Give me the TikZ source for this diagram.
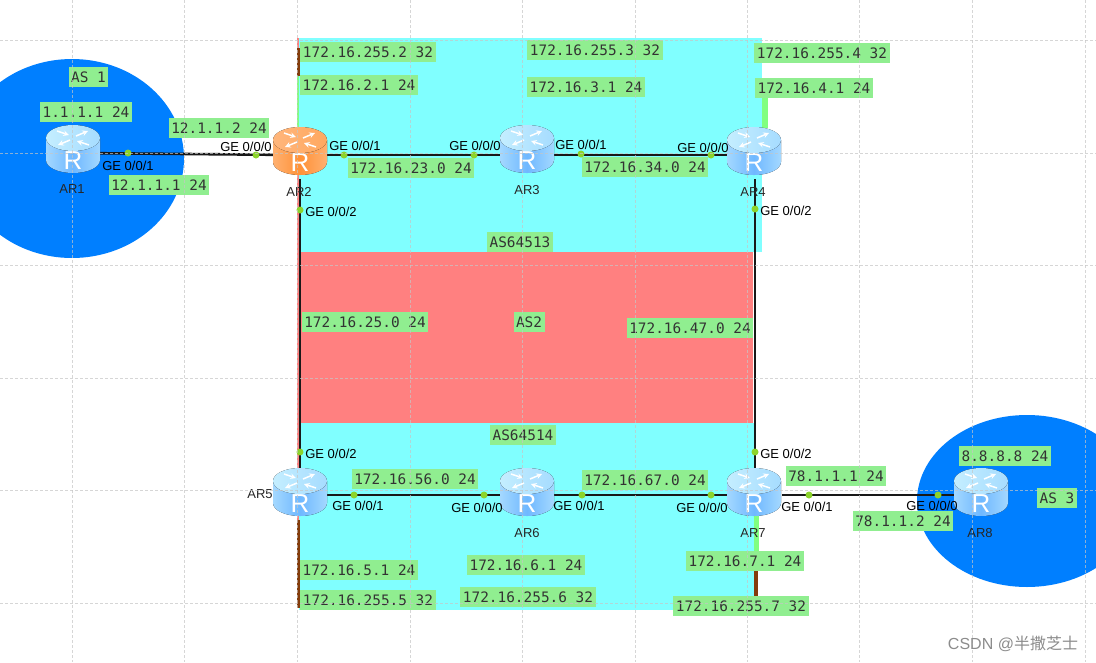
\documentclass[tikz,border=0pt]{standalone}
\usepackage{fontspec}
\usepackage{xcolor}
\setmainfont{Liberation Sans}
\setmonofont{DejaVu Sans Mono}
\newfontfamily\cjk{Noto Sans CJK SC}
\definecolor{asblue}{HTML}{007FFF}
\definecolor{ascyan}{HTML}{80FFFF}
\definecolor{asred}{HTML}{FF8080}
\definecolor{tagfill}{HTML}{90EE90}
\definecolor{portdot}{HTML}{8CD42C}
\definecolor{lobrown}{HTML}{843C0C}
\definecolor{logreen}{HTML}{80FF80}
\definecolor{bluea}{HTML}{A4D8FF}
\definecolor{blueb}{HTML}{6FB8FF}
\definecolor{bluec}{HTML}{C4EEFF}
\definecolor{blued}{HTML}{A6DCFF}
\definecolor{orangea}{HTML}{FFB070}
\definecolor{orangeb}{HTML}{FF9238}
\definecolor{orangec}{HTML}{FFB67C}
\definecolor{oranged}{HTML}{FFA860}
\tikzset{
    pics/router/.style n args={4}{code={
        \fill[left color=#1, right color=#1, middle color=#2] (-27,-11) -- (-27,11)
            arc[start angle=180, end angle=360, x radius=27pt, y radius=13pt] -- (27,-11) -- cycle;
        \fill[left color=#3, right color=#4] (0,-11) ellipse[x radius=27pt, y radius=13pt];
        \draw[white, line width=1.5pt, -stealth] (3,-13) -- (15,-18);
        \draw[white, line width=1.5pt, -stealth] (-3,-9) -- (-15,-4);
        \draw[white, line width=1.5pt, -stealth] (-16,-18) -- (-4,-14);
        \draw[white, line width=1.5pt, -stealth] (16,-4) -- (4,-8);
        \node[text=white, font=\fontsize{26}{26}\selectfont, inner sep=0pt] (R) at (0,12) {R};
    }},
    pics/bluerouter/.style={router={bluea}{blueb}{bluec}{blued}},
    pics/orangerouter/.style={router={orangea}{orangeb}{orangec}{oranged}}
}
\begin{document}
\begin{tikzpicture}[x=1pt, y=-1pt,
    rpos/.style={shape=rectangle, inner sep=0pt, minimum width=54pt, minimum height=48pt},
    tag/.style={fill=tagfill, text=black!80, font=\ttfamily\fontsize{14.4}{16}\selectfont,
        inner xsep=2.5pt, inner ysep=0pt, minimum height=20pt},
    port/.style={font=\fontsize{13}{14}\selectfont, text=black, inner sep=0pt},
    rname/.style={font=\fontsize{13}{14}\selectfont, text=black!85, inner sep=0pt},
    pdot/.style={shape=circle, fill=portdot, inner sep=0pt, minimum size=7pt},
    link/.style={line width=2.6pt, black!90},
    stub/.style={line width=3pt},
    gridline/.style={gray!45, line width=.9pt, dash pattern=on 3pt off 2pt, opacity=.7}]
    \clip (0,0) rectangle (1096,662);
    \fill[white] (0,0) rectangle (1096,662);

    % AS areas
    \fill[asblue] (72,158.5) ellipse[x radius=112pt, y radius=99.5pt];
    \fill[asblue] (1027,501) ellipse[x radius=110pt, y radius=86pt];
    \fill[asred] (297,38) rectangle (753,608);
    \fill[ascyan] (299,38) rectangle (762,252);
    \fill[ascyan] (299,423) rectangle (755,610);

    \node[rpos] (AR1) at (73,153) {};
    \node[rpos] (AR2) at (300,155) {};
    \node[rpos] (AR3) at (527,155) {};
    \node[rpos] (AR4) at (755,155) {};
    \node[rpos] (AR5) at (300,495) {};
    \node[rpos] (AR6) at (527,495) {};
    \node[rpos] (AR7) at (755,495) {};
    \node[rpos] (AR8) at (981,495) {};

    % loopback stubs
    \coordinate (lo2a) at (298,48);
    \coordinate (lo2b) at (298,76);
    \coordinate (lo2c) at (298,128);
    \coordinate (lo4a) at (765,98);
    \coordinate (lo4b) at (765,128);
    \coordinate (lo5a) at (298,520);
    \coordinate (lo5b) at (298,608);
    \coordinate (lo7a) at (756,516);
    \coordinate (lo7b) at (756,571);
    \coordinate (lo7c) at (756,597);
    \draw[stub, lobrown] (lo2a) -- (lo2b);
    \draw[stub, logreen, line width=2pt] (lo2b) -- (lo2c);
    \draw[stub, logreen, line width=6pt] (lo4a) -- (lo4b);
    \draw[stub, lobrown] (lo5a) -- (lo5b);
    \draw[stub, logreen, line width=5pt] (lo7a) -- (lo7b);
    \draw[stub, lobrown, line width=4pt] (lo7b) -- (lo7c);

    \draw[link] (AR1) -- (AR2);
    \draw[link] (AR2) -- (AR3);
    \draw[link] (AR3) -- (AR4);
    \draw[link] (AR5) -- (AR6);
    \draw[link] (AR6) -- (AR7);
    \draw[link] (AR7) -- (AR8);
    \draw[link] (AR2) -- (AR5);
    \draw[link] (AR4) -- (AR7);

    \node[pdot] (d11) at (128,153) {};
    \node[pdot] (d20) at (256,155) {};
    \node[pdot] (d21) at (344,155) {};
    \node[pdot] (d22) at (300,210) {};
    \node[pdot] (d30) at (474,155) {};
    \node[pdot] (d31) at (581,154) {};
    \node[pdot] (d40) at (711,155) {};
    \node[pdot] (d42) at (755,209) {};
    \node[pdot] (d52) at (300,452) {};
    \node[pdot] (d51) at (354,495) {};
    \node[pdot] (d60) at (484,495) {};
    \node[pdot] (d61) at (582,495) {};
    \node[pdot] (d70) at (711,495) {};
    \node[pdot] (d72) at (755,452) {};
    \node[pdot] (d71) at (809,495) {};
    \node[pdot] (d80) at (938,495) {};

    \pic (r1) at (73,149) {bluerouter};
    \pic (r2) at (300,151) {orangerouter};
    \pic (r3) at (527,149) {bluerouter};
    \pic (r4) at (754,151) {bluerouter};
    \pic (r5) at (300,492) {bluerouter};
    \pic (r6) at (527,492) {bluerouter};
    \pic (r7) at (754,492) {bluerouter};
    \pic (r8) at (981,492) {bluerouter};

    \node[rname] (n1) at (72,189) {AR1};
    \node[rname] (n2) at (299,192) {AR2};
    \node[rname] (n3) at (527,190) {AR3};
    \node[rname] (n4) at (753,192) {AR4};
    \node[rname] (n5) at (260,494) {AR5};
    \node[rname] (n6) at (527,533) {AR6};
    \node[rname] (n7) at (753,533) {AR7};
    \node[rname] (n8) at (980,533) {AR8};

    \node[port] (p11) at (128,166) {GE 0/0/1};
    \node[port] (p20) at (246,147) {GE 0/0/0};
    \node[port] (p21) at (355,146) {GE 0/0/1};
    \node[port] (p22) at (331,212) {GE 0/0/2};
    \node[port] (p30) at (475,146) {GE 0/0/0};
    \node[port] (p31) at (581,145) {GE 0/0/1};
    \node[port] (p40) at (703,148) {GE 0/0/0};
    \node[port] (p42) at (786,211) {GE 0/0/2};
    \node[port] (p52) at (331,454) {GE 0/0/2};
    \node[port] (p51) at (358,506) {GE 0/0/1};
    \node[port] (p60) at (477,508) {GE 0/0/0};
    \node[port] (p61) at (579,506) {GE 0/0/1};
    \node[port] (p70) at (702,508) {GE 0/0/0};
    \node[port] (p72) at (786,454) {GE 0/0/2};
    \node[port] (p71) at (807,507) {GE 0/0/1};
    \node[port] (p80) at (932,506) {GE 0/0/0};

    \node[tag] (as1) at (88.5,77) {AS 1};
    \node[tag] (lo1) at (86,112) {1.1.1.1 24};
    \node[tag] (t12b) at (219,128) {12.1.1.2 24};
    \node[tag] (t12a) at (159,185) {12.1.1.1 24};
    \node[tag] (lo2) at (368,52) {172.16.255.2 32};
    \node[tag] (lan2) at (359,85) {172.16.2.1 24};
    \node[tag] (lo3) at (595,50) {172.16.255.3 32};
    \node[tag] (lan3) at (586,87) {172.16.3.1 24};
    \node[tag] (lo4) at (822,53) {172.16.255.4 32};
    \node[tag] (lan4) at (814,88) {172.16.4.1 24};
    \node[tag] (net23) at (411,168) {172.16.23.0 24};
    \node[tag] (net34) at (645,167) {172.16.34.0 24};
    \node[tag] (as13) at (520,242) {AS64513};
    \node[tag] (net25) at (365,322) {172.16.25.0 24};
    \node[tag] (as2) at (529,322) {AS2};
    \node[tag] (net47) at (690,328) {172.16.47.0 24};
    \node[tag] (as14) at (523,435) {AS64514};
    \node[tag] (net56) at (415,479) {172.16.56.0 24};
    \node[tag] (net67) at (645,480) {172.16.67.0 24};
    \node[tag] (t78a) at (836,476) {78.1.1.1 24};
    \node[tag] (t78b) at (903,521) {78.1.1.2 24};
    \node[tag] (lo8) at (1005,456) {8.8.8.8 24};
    \node[tag] (as3) at (1057,498) {AS 3};
    \node[tag] (lan5) at (359,570) {172.16.5.1 24};
    \node[tag] (lo5) at (368,600) {172.16.255.5 32};
    \node[tag] (lan6) at (526,565) {172.16.6.1 24};
    \node[tag] (lo6) at (528,597) {172.16.255.6 32};
    \node[tag] (lan7) at (745,561) {172.16.7.1 24};
    \node[tag] (lo7) at (741,606) {172.16.255.7 32};

    % canvas grid sits on top of everything
    \foreach \gx in {72,184,297,410,522,635,747,859,972,1085}
        \draw[gridline] (\gx,0) -- (\gx,662);
    \foreach \gy in {40,153,265,378,490,603}
        \draw[gridline] (0,\gy) -- (1096,\gy);

    \node[text=black!45, inner sep=0pt, font=\fontsize{16}{18}\selectfont] (mark) at (1013,644) {CSDN @{\cjk 半撒芝士}};
\end{tikzpicture}
\end{document}
